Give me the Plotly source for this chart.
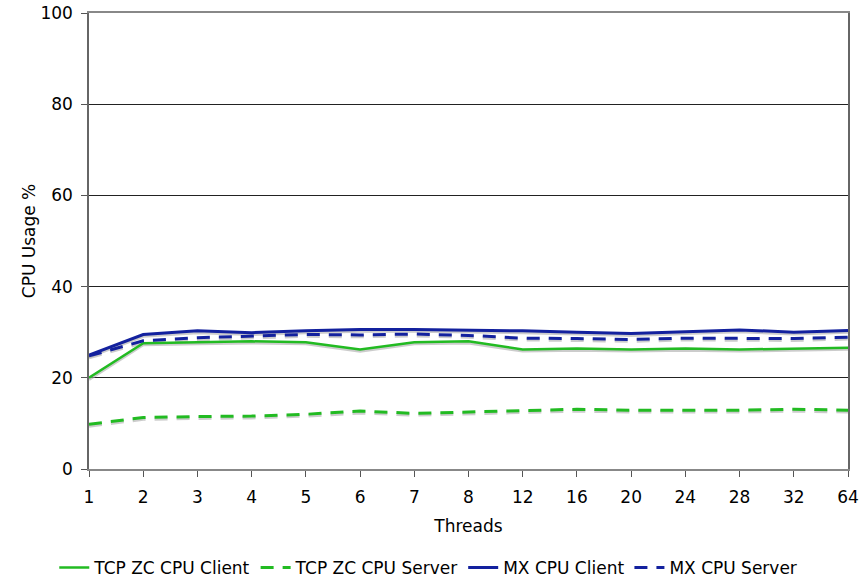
import plotly.graph_objects as go

threads = ["1", "2", "3", "4", "5", "6", "7", "8", "12", "16", "20", "24", "28", "32", "64"]
tcp_client = [20.0, 27.6, 27.8, 28.0, 27.8, 26.2, 27.8, 28.0, 26.2, 26.4, 26.2, 26.4, 26.2, 26.4, 26.6]
tcp_server = [9.8, 11.3, 11.5, 11.6, 12.0, 12.7, 12.2, 12.5, 12.7, 13.1, 12.9, 12.9, 12.9, 13.1, 12.9]
mx_client = [25.0, 29.5, 30.3, 29.9, 30.3, 30.6, 30.6, 30.5, 30.3, 30.0, 29.7, 30.1, 30.5, 30.0, 30.4]
mx_server = [24.8, 28.1, 28.8, 29.2, 29.5, 29.4, 29.6, 29.3, 28.7, 28.6, 28.4, 28.7, 28.7, 28.6, 28.9]
y_ticks = [0, 20, 40, 60, 80, 100]

GREEN = "#22bb22"
BLUE = "#13219e"
DASH = "13px,9px"

series = [
    ("TCP ZC CPU Client", tcp_client, GREEN, "solid", 2.5),
    ("TCP ZC CPU Server", tcp_server, GREEN, DASH, 3),
    ("MX CPU Client", mx_client, BLUE, "solid", 3),
    ("MX CPU Server", mx_server, BLUE, DASH, 3),
]

fig = go.Figure()
# soft drop shadows
for name, vals, color, dash, w in series:
    fig.add_trace(go.Scatter(
        x=threads, y=[v - 0.35 for v in vals], mode="lines",
        line=dict(color="rgba(170,170,170,0.6)", width=w + 0.5, dash=dash),
        showlegend=False, hoverinfo="skip"))
for name, vals, color, dash, w in series:
    fig.add_trace(go.Scatter(
        x=threads, y=vals, mode="lines", name=name,
        line=dict(color=color, width=w, dash=dash)))

fig.update_layout(
    width=861, height=581,
    margin=dict(l=89, r=13, t=13, b=112, autoexpand=False),
    paper_bgcolor="white", plot_bgcolor="white",
    font=dict(family="DejaVu Sans", size=17, color="black"),
    showlegend=True,
    legend=dict(orientation="h", x=0.447, xanchor="center", y=-0.217, yanchor="middle",
                font=dict(size=17), itemwidth=30, tracegroupgap=0,
                traceorder="normal"),
)
fig.update_xaxes(
    type="category", range=[0, 14], automargin=False,
    title=dict(text="Threads", standoff=14, font=dict(size=17)),
    showgrid=False, showline=True, linecolor="#888", linewidth=2, mirror=True,
    ticks="outside", ticklen=6, tickcolor="#555", tickwidth=1,
    ticklabelstandoff=6,
)
fig.update_yaxes(
    range=[0, 100], tickvals=y_ticks, automargin=False,
    title=dict(text="CPU Usage %", standoff=0, font=dict(size=17)),
    showgrid=True, gridcolor="#222", gridwidth=1, zeroline=False,
    showline=True, linecolor="#666", linewidth=1.5, mirror=True,
    ticks="outside", ticklen=6, tickcolor="#555", tickwidth=1,
    ticklabelstandoff=5,
)
fig.write_html("out.html", config={"displayModeBar": False},
               post_script="document.body.style.margin='0px';")
